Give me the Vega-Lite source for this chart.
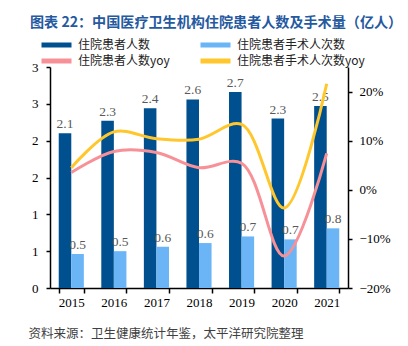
{
  "$schema": "https://vega.github.io/schema/vega-lite/v6.json",
  "width": 298,
  "height": 221,
  "autosize": {"type": "none"},
  "padding": {"left": 50, "top": 67, "right": 60, "bottom": 58},
  "background": "white",
  "title": {
    "text": "图表 22：中国医疗卫生机构住院患者人数及手术量（亿人）",
    "anchor": "start",
    "frame": "group",
    "dx": -20,
    "offset": 7,
    "font": "Noto Sans CJK SC",
    "fontSize": 14.1,
    "fontWeight": "bold",
    "color": "#2559A0"
  },
  "datasets": {
    "bars": [
      {"year": "2015", "series": "住院患者人数", "value": 2.10},
      {"year": "2016", "series": "住院患者人数", "value": 2.27},
      {"year": "2017", "series": "住院患者人数", "value": 2.44},
      {"year": "2018", "series": "住院患者人数", "value": 2.56},
      {"year": "2019", "series": "住院患者人数", "value": 2.66},
      {"year": "2020", "series": "住院患者人数", "value": 2.30},
      {"year": "2021", "series": "住院患者人数", "value": 2.47},
      {"year": "2015", "series": "住院患者手术人次数", "value": 0.46},
      {"year": "2016", "series": "住院患者手术人次数", "value": 0.50},
      {"year": "2017", "series": "住院患者手术人次数", "value": 0.56},
      {"year": "2018", "series": "住院患者手术人次数", "value": 0.61},
      {"year": "2019", "series": "住院患者手术人次数", "value": 0.70},
      {"year": "2020", "series": "住院患者手术人次数", "value": 0.66},
      {"year": "2021", "series": "住院患者手术人次数", "value": 0.81}
    ],
    "yoy": [
      {"year": "2015", "series": "住院患者人数yoy", "value": 0.035},
      {"year": "2016", "series": "住院患者人数yoy", "value": 0.078},
      {"year": "2017", "series": "住院患者人数yoy", "value": 0.076},
      {"year": "2018", "series": "住院患者人数yoy", "value": 0.045},
      {"year": "2019", "series": "住院患者人数yoy", "value": 0.054},
      {"year": "2020", "series": "住院患者人数yoy", "value": -0.135},
      {"year": "2021", "series": "住院患者人数yoy", "value": 0.074},
      {"year": "2015", "series": "住院患者手术人次数yoy", "value": 0.045},
      {"year": "2016", "series": "住院患者手术人次数yoy", "value": 0.118},
      {"year": "2017", "series": "住院患者手术人次数yoy", "value": 0.104},
      {"year": "2018", "series": "住院患者手术人次数yoy", "value": 0.103},
      {"year": "2019", "series": "住院患者手术人次数yoy", "value": 0.133},
      {"year": "2020", "series": "住院患者手术人次数yoy", "value": -0.037},
      {"year": "2021", "series": "住院患者手术人次数yoy", "value": 0.216}
    ]
  },
  "encoding": {
    "x": {
      "field": "year",
      "type": "nominal",
      "scale": {"paddingInner": 0.41, "paddingOuter": 0.205},
      "axis": {
        "title": "资料来源：卫生健康统计年鉴，太平洋研究院整理",
        "titleAnchor": "start",
        "titleAlign": "left",
        "titleX": -22,
        "titleY": 45,
        "titleBaseline": "middle",
        "titleFont": "Noto Sans CJK SC",
        "titleFontSize": 12.5,
        "titleFontWeight": "normal",
        "titleColor": "#404040",
        "labelAngle": 0,
        "labelFont": "Liberation Serif",
        "labelFontSize": 13,
        "labelColor": "#000000",
        "labelPadding": 3,
        "tickBand": "extent",
        "tickSize": 5,
        "tickColor": "#000000",
        "domainColor": "#000000",
        "domainWidth": 1.5,
        "tickWidth": 1.5
      }
    }
  },
  "layer": [
    {
      "data": {"name": "bars"},
      "encoding": {
        "xOffset": {"field": "series", "type": "nominal", "sort": ["住院患者人数", "住院患者手术人次数"], "scale": {"paddingInner": 0, "paddingOuter": 0}},
        "y": {
          "field": "value",
          "type": "quantitative",
          "scale": {"domain": [0, 3], "nice": false},
          "axis": {
            "title": null,
            "values": [0, 0.5, 1, 1.5, 2, 2.5, 3],
            "labelExpr": "round(datum.value)",
            "labelFont": "Liberation Serif",
            "labelFontSize": 13,
            "labelColor": "#000000",
            "labelPadding": 8,
            "tickSize": 4,
            "tickColor": "#000000",
            "domainColor": "#000000",
            "domainWidth": 1.5,
            "tickWidth": 1.5,
            "grid": false
          }
        }
      },
      "layer": [
        {
          "mark": {"type": "bar"},
          "encoding": {
            "color": {
              "field": "series",
              "type": "nominal",
              "sort": ["住院患者人数", "住院患者手术人次数", "住院患者人数yoy", "住院患者手术人次数yoy"],
              "scale": {
                "domain": ["住院患者人数", "住院患者手术人次数", "住院患者人数yoy", "住院患者手术人次数yoy"],
                "range": ["#00508F", "#6BB5F7", "#F79197", "#FFC72C"]
              },
              "legend": {
                "title": null,
                "orient": "none",
                "direction": "horizontal",
                "legendX": -11,
                "legendY": -30,
                "columns": 2,
                "columnPadding": 28,
                "rowPadding": 0,
                "clipHeight": 16,
                "values": ["住院患者人数", "住院患者手术人次数", "住院患者人数yoy", "住院患者手术人次数yoy"],
                "symbolType": "stroke",
                "symbolSize": 900,
                "symbolStrokeWidth": 5,
                "labelFont": "Noto Sans CJK SC",
                "labelFontSize": 12,
                "labelColor": "#222222",
                "labelOffset": 4,
                "padding": 0,
                "encode": {
                  "symbols": {
                    "update": {
                      "stroke": {"scale": "color", "field": "value"},
                      "strokeWidth": {"value": 5},
                      "shape": {"value": "stroke"}
                    }
                  }
                }
              }
            }
          }
        },
        {
          "mark": {"type": "text", "baseline": "alphabetic", "dy": -5, "font": "Liberation Serif", "fontSize": 13.5, "color": "#595959"},
          "encoding": {
            "text": {"field": "value", "type": "quantitative", "format": ".1f"}
          }
        }
      ]
    },
    {
      "data": {"name": "yoy"},
      "mark": {"type": "line", "interpolate": "catmull-rom", "strokeWidth": 3},
      "encoding": {
        "y": {
          "field": "value",
          "type": "quantitative",
          "scale": {"domain": [-0.2, 0.25], "nice": false},
          "axis": {
            "orient": "right",
            "title": null,
            "values": [-0.2, -0.1, 0, 0.1, 0.2],
            "format": ".0%",
            "labelFont": "Liberation Serif",
            "labelFontSize": 13,
            "labelColor": "#000000",
            "labelPadding": 7,
            "tickSize": 4,
            "tickColor": "#000000",
            "domainColor": "#000000",
            "domainWidth": 1.5,
            "tickWidth": 1.5,
            "grid": false
          }
        },
        "color": {
          "field": "series",
          "type": "nominal",
          "sort": ["住院患者人数", "住院患者手术人次数", "住院患者人数yoy", "住院患者手术人次数yoy"],
          "scale": {
            "domain": ["住院患者人数", "住院患者手术人次数", "住院患者人数yoy", "住院患者手术人次数yoy"],
            "range": ["#00508F", "#6BB5F7", "#F79197", "#FFC72C"]
          }
        }
      }
    }
  ],
  "resolve": {"scale": {"y": "independent"}},
  "config": {"view": {"stroke": null}}
}
